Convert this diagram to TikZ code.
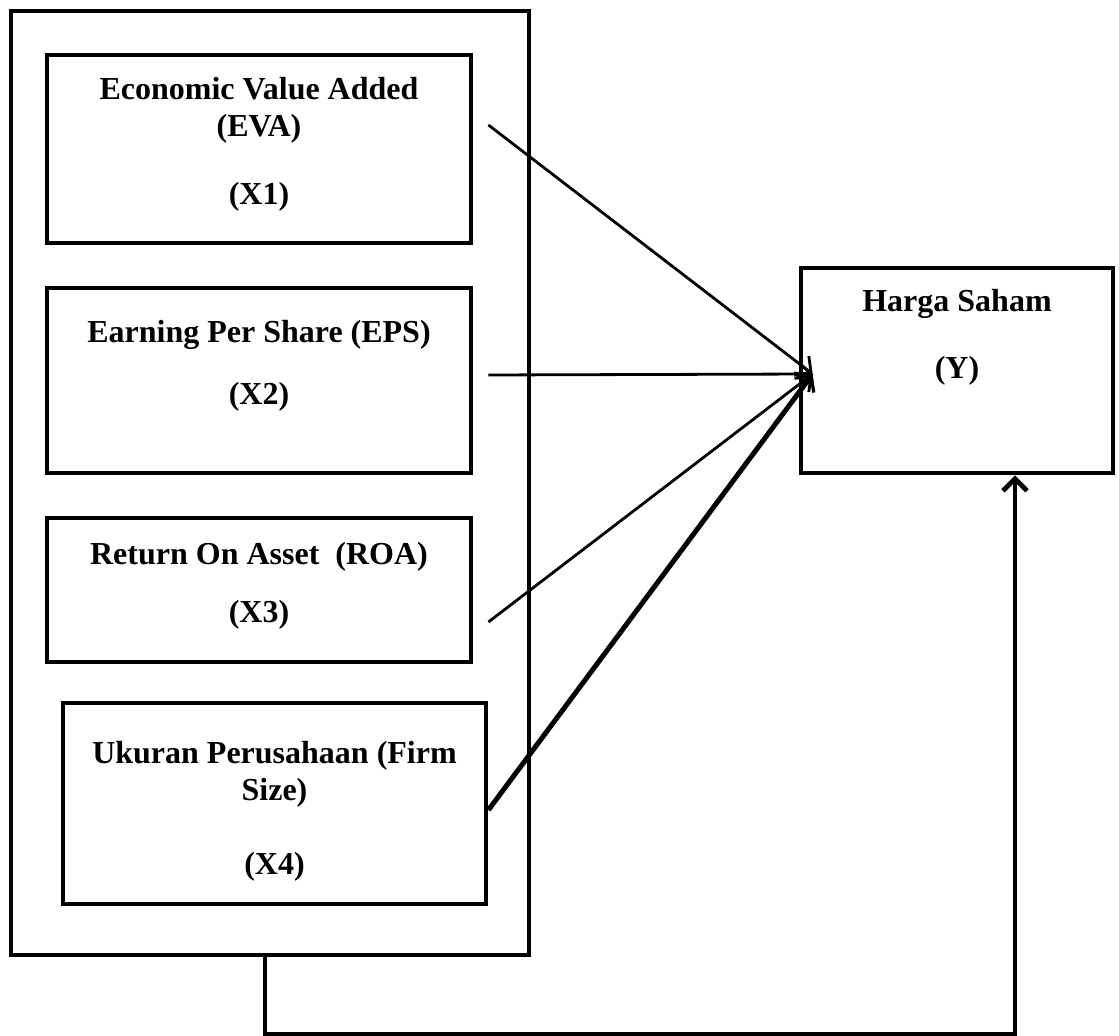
\documentclass[tikz,border=0pt]{standalone}
\usepackage{fontspec}
\setmainfont{Liberation Serif}
\usetikzlibrary{positioning}
\usetikzlibrary{arrows.meta}
\usetikzlibrary{fit}

\begin{document}
\begin{tikzpicture}[x=0.5pt,y=-0.5pt,
      var box/.style={draw=black,line width=2.4pt,inner sep=0pt},
      var text/.style={font=\fontsize{16}{18.5}\selectfont\bfseries,align=center,inner sep=0pt,anchor=north},
      thin link/.style={line width=1.4pt,-{Straight Barb[length=6pt,width=12pt,line width=1.4pt]}},
      thick link/.style={line width=2.5pt,-{Straight Barb[length=6pt,width=12pt,line width=1.6pt]}}
      ]
      \useasboundingbox (0,0) rectangle (1119,1036);

      % the four independent variables inside one frame
      \node[draw=black,line width=2pt,inner sep=0pt,fit={(11,11) (529,955)}] (group) {};
      \node[var box,fit={(47,55) (471,243)}] (eva) {};
      \node[var box,fit={(47,288) (471,473)}] (eps) {};
      \node[var box,fit={(47,518) (471,662)}] (roa) {};
      \node[var box,fit={(63,703) (486,904)}] (size) {};
      \node[var box,fit={(801,268) (1113,473)}] (harga) {};

      \node[var text] (eva text) at ([yshift=-12pt]eva.north) {Economic Value Added\\(EVA)\\[15.5pt](X1)};
      \node[var text] (eps text) at ([yshift=-17pt]eps.north) {Earning Per Share (EPS)\\[12.5pt](X2)};
      \node[var text] (roa text) at ([yshift=-13pt]roa.north) {Return On Asset\ \ (ROA)\\[10.5pt](X3)};
      \node[var text] (size text) at ([yshift=-20pt]size.north) {Ukuran Perusahaan (Firm\\Size)\\[18.5pt](X4)};
      \node[var text] (harga text) at ([yshift=-11.5pt]harga.north) {Harga Saham\\[15pt](Y)};

      \coordinate (tip) at ([xshift=7pt,yshift=-1.75pt]harga.west);

      \draw[thin link] ([xshift=7.5pt,yshift=12pt]eva.east) -- (tip);
      \draw[thin link] ([xshift=7.5pt,yshift=2.75pt]eps.east) -- (tip);
      \draw[thin link] ([xshift=7.5pt,yshift=-16pt]roa.east) -- (tip);
      \draw[thick link] ([yshift=-3.25pt]size.east) -- (tip);

      % simultaneous effect
      \draw[line width=2.4pt,-{Straight Barb[length=6pt,width=12pt]}] ([xshift=-2.5pt]group.south) -- ++(0,77) -| ([xshift=29pt]harga.south);
\end{tikzpicture}
\end{document}
